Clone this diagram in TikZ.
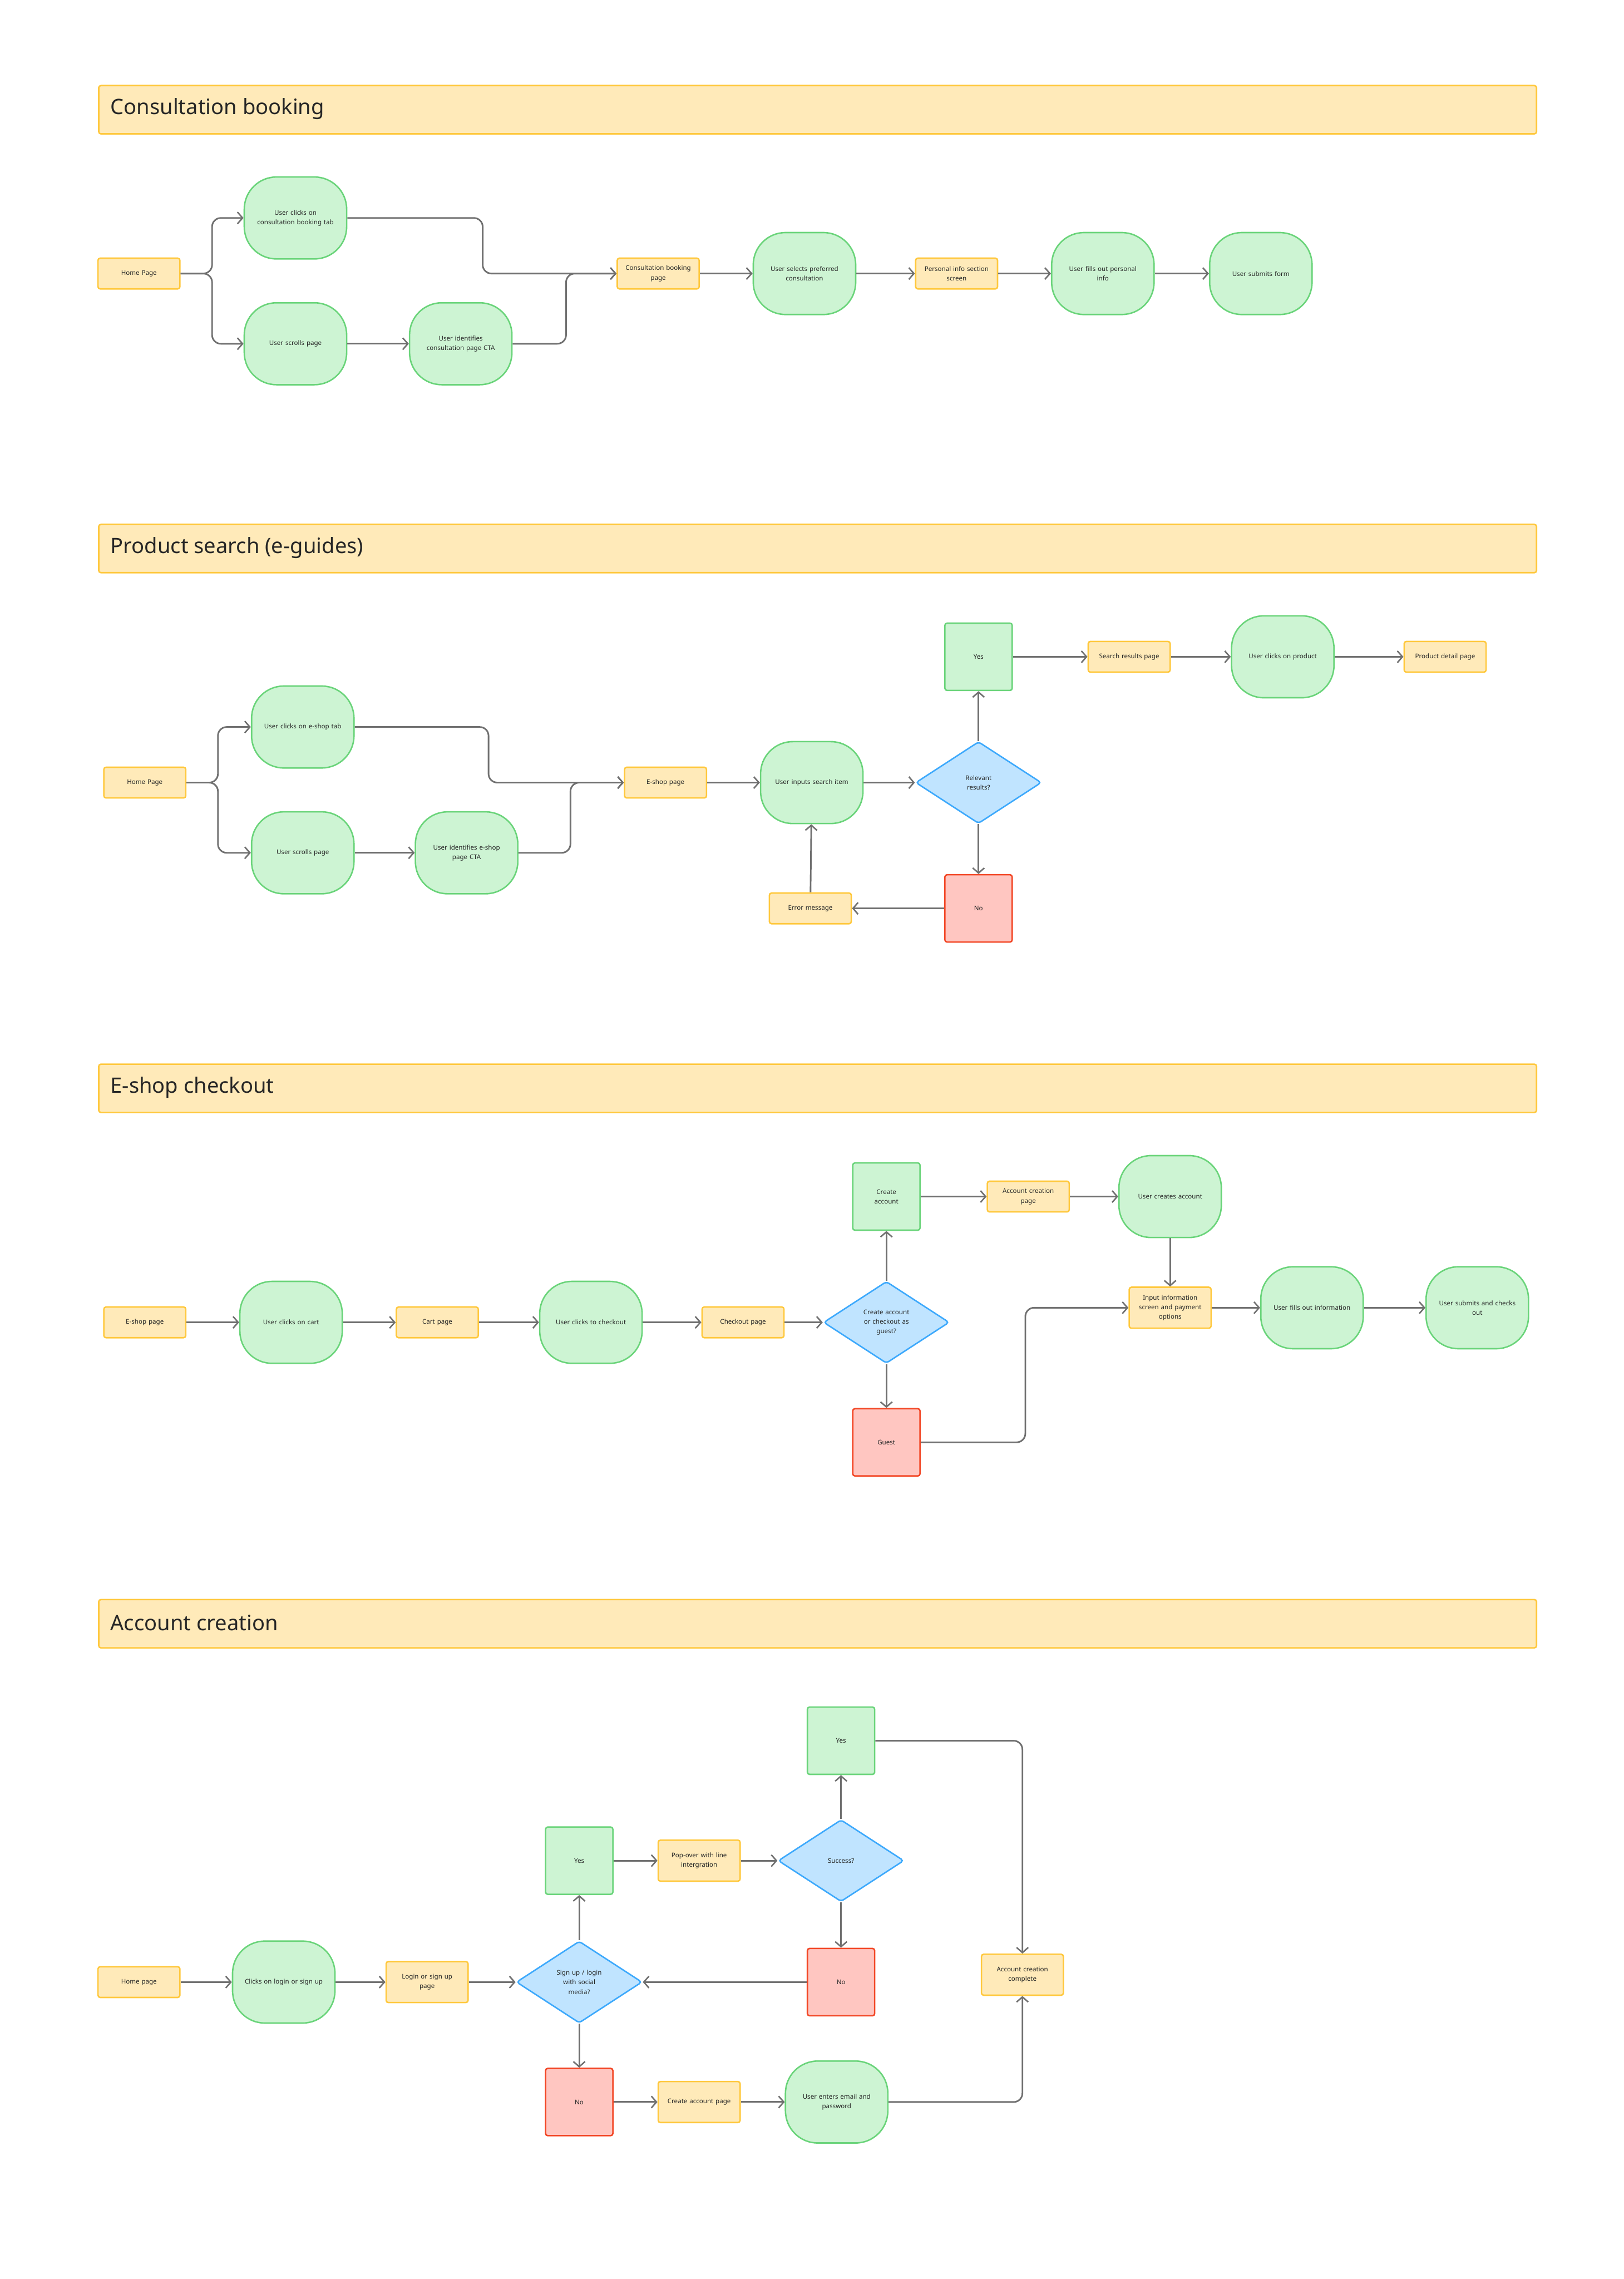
\documentclass[tikz,border=0pt]{standalone}
\usepackage{fontspec}
\setmainfont{Noto Sans}
\usetikzlibrary{arrows.meta,shapes.geometric}
\definecolor{yfill}{HTML}{FFEAB9}
\definecolor{ydraw}{HTML}{FFC83D}
\definecolor{gfill}{HTML}{CDF4D3}
\definecolor{gdraw}{HTML}{6AD47A}
\definecolor{rfill}{HTML}{FFC6C1}
\definecolor{rdraw}{HTML}{F24726}
\definecolor{bfill}{HTML}{C0E4FF}
\definecolor{bdraw}{HTML}{3DA9FC}
\definecolor{lgray}{HTML}{707070}
\tikzset{
  x=1pt,y=-1pt,
  every node/.style={font=\fontsize{4.4}{6.6}\selectfont, align=center, text=black!85},
  header/.style={draw=ydraw, fill=yfill, line width=1pt, rounded corners=1.5pt, minimum width=983pt, minimum height=33pt, anchor=north west, inner sep=0},
  htext/.style={font=\fontsize{14.5}{16}\selectfont, anchor=west},
  page/.style={draw=ydraw, fill=yfill, line width=1pt, rounded corners=1.5pt, minimum width=56pt, minimum height=21pt, inner sep=1pt, text width=54pt},
  tallpage/.style={page, minimum height=28pt},
  act/.style={draw=gdraw, fill=gfill, line width=1pt, rounded corners=22pt, minimum width=70pt, minimum height=56pt, inner sep=1pt, text width=64pt},
  yes/.style={draw=gdraw, fill=gfill, line width=1pt, rounded corners=1.5pt, minimum width=46pt, minimum height=46pt, inner sep=1pt, text width=40pt},
  no/.style={yes, draw=rdraw, fill=rfill},
  dec/.style={diamond, draw=bdraw, fill=bfill, line width=1pt, rounded corners=2pt, minimum width=86pt, minimum height=56pt, aspect=1.54, inner sep=0pt, text width=34pt},
  flow/.style={draw=lgray, line width=1.1pt, rounded corners=6pt, -{Straight Barb[length=3.5pt,width=8pt,line width=1pt]}},
}
\begin{document}
\begin{tikzpicture}
\useasboundingbox (0,0) rectangle (1110,1558);
% ---------- Section 1
\node[header] (h1) at (67,58) {};
\node[htext] (h1t) at (72,74.5) {Consultation booking};
\node[page] (a1) at (95,187) {Home Page};
\node[act] (a2) at (202,149) {User clicks on\\consultation booking tab};
\node[act] (a3) at (202,235) {User scrolls page};
\node[act] (a4) at (315,235) {User identifies\\consultation page CTA};
\node[page] (a5) at (450,187) {Consultation booking\\page};
\node[act] (a6) at (550,187) {User selects preferred\\consultation};
\node[page] (a7) at (654,187) {Personal info section\\screen};
\node[act] (a8) at (754,187) {User fills out personal\\info};
\node[act] (a9) at (862,187) {User submits form};
\draw[flow] (a1.east) -- (145,187) |- (a2.west);
\draw[flow] (a1.east) -- (145,187) |- (a3.west);
\draw[flow] (a2.east) -| (330,187) -- (a5.west);
\draw[flow] (a3) -- (a4);
\draw[flow] (a4.east) -| (387,187) -- (a5.west);
\draw[flow] (a5) -- (a6);
\draw[flow] (a6) -- (a7);
\draw[flow] (a7) -- (a8);
\draw[flow] (a8) -- (a9);
% ---------- Section 2
\node[header] (h2) at (67,358) {};
\node[htext] (h2t) at (72,374.5) {Product search (e-guides)};
\node[page] (b1) at (99,535) {Home Page};
\node[act] (b2) at (207,497) {User clicks on e-shop tab};
\node[act] (b3) at (207,583) {User scrolls page};
\node[act] (b4) at (319,583) {User identifies e-shop\\page CTA};
\node[page] (b5) at (455,535) {E-shop page};
\node[act] (b6) at (555,535) {User inputs search item};
\node[dec] (b7) at (669,535) {Relevant results?};
\node[yes] (b8) at (669,449) {Yes};
\node[page] (b9) at (772,449) {Search results page};
\node[act] (b10) at (877,449) {User clicks on product};
\node[page] (b11) at (988,449) {Product detail page};
\node[no] (b12) at (669,621) {No};
\node[page] (b13) at (554,621) {Error message};
\draw[flow] (b1.east) -- (149,535) |- (b2.west);
\draw[flow] (b1.east) -- (149,535) |- (b3.west);
\draw[flow] (b2.east) -| (334,535) -- (b5.west);
\draw[flow] (b3) -- (b4);
\draw[flow] (b4.east) -| (390,535) -- (b5.west);
\draw[flow] (b5) -- (b6);
\draw[flow] (b6) -- (b7);
\draw[flow] (b7) -- (b8);
\draw[flow] (b8) -- (b9);
\draw[flow] (b9) -- (b10);
\draw[flow] (b10) -- (b11);
\draw[flow] (b7) -- (b12);
\draw[flow] (b12) -- (b13);
\draw[flow] (b13) -- (b6);
% ---------- Section 3
\node[header] (h3) at (67,727) {};
\node[htext] (h3t) at (72,743.5) {E-shop checkout};
\node[page] (c1) at (99,904) {E-shop page};
\node[act] (c2) at (199,904) {User clicks on cart};
\node[page] (c3) at (299,904) {Cart page};
\node[act] (c4) at (404,904) {User clicks to checkout};
\node[page] (c5) at (508,904) {Checkout page};
\node[dec] (c6) at (606,904) {Create account\\or checkout as\\guest?};
\node[yes] (c7) at (606,818) {Create\\account};
\node[page] (c8) at (703,818) {Account creation\\page};
\node[act] (c9) at (800,818) {User creates account};
\node[no] (c10) at (606,986) {Guest};
\node[tallpage] (c11) at (800,894) {Input information\\screen and payment\\options};
\node[act] (c12) at (897,894) {User fills out information};
\node[act] (c13) at (1010,894) {User submits and checks\\out};
\draw[flow] (c1) -- (c2);
\draw[flow] (c2) -- (c3);
\draw[flow] (c3) -- (c4);
\draw[flow] (c4) -- (c5);
\draw[flow] (c5) -- (c6);
\draw[flow] (c6) -- (c7);
\draw[flow] (c7) -- (c8);
\draw[flow] (c8) -- (c9);
\draw[flow] (c6) -- (c10);
\draw[flow] (c9) -- (c11);
\draw[flow] (c10.east) -| (701,894) -- (c11.west);
\draw[flow] (c11) -- (c12);
\draw[flow] (c12) -- (c13);
% ---------- Section 4
\node[header] (h4) at (67,1093) {};
\node[htext] (h4t) at (72,1109.5) {Account creation};
\node[page] (d1) at (95,1355) {Home page};
\node[act] (d2) at (194,1355) {Clicks on login or sign up};
\node[tallpage] (d3) at (292,1355) {Login or sign up\\page};
\node[dec] (d4) at (396,1355) {Sign up / login\\with social\\media?};
\node[yes] (d5) at (396,1272) {Yes};
\node[tallpage] (d6) at (478,1272) {Pop-over with line\\intergration};
\node[dec] (d7) at (575,1272) {Success?};
\node[yes] (d8) at (575,1190) {Yes};
\node[no] (d9) at (575,1355) {No};
\node[no] (d10) at (396,1437) {No};
\node[tallpage] (d11) at (478,1437) {Create account page};
\node[act] (d12) at (572,1437) {User enters email and\\password};
\node[tallpage] (d13) at (699,1350) {Account creation\\complete};
\draw[flow] (d1) -- (d2);
\draw[flow] (d2) -- (d3);
\draw[flow] (d3) -- (d4);
\draw[flow] (d4) -- (d5);
\draw[flow] (d5) -- (d6);
\draw[flow] (d6) -- (d7);
\draw[flow] (d7) -- (d8);
\draw[flow] (d7) -- (d9);
\draw[flow] (d9) -- (d4);
\draw[flow] (d4) -- (d10);
\draw[flow] (d10) -- (d11);
\draw[flow] (d11) -- (d12);
\draw[flow] (d8.east) -| (d13.north);
\draw[flow] (d12.east) -| (d13.south);
\end{tikzpicture}
\end{document}
